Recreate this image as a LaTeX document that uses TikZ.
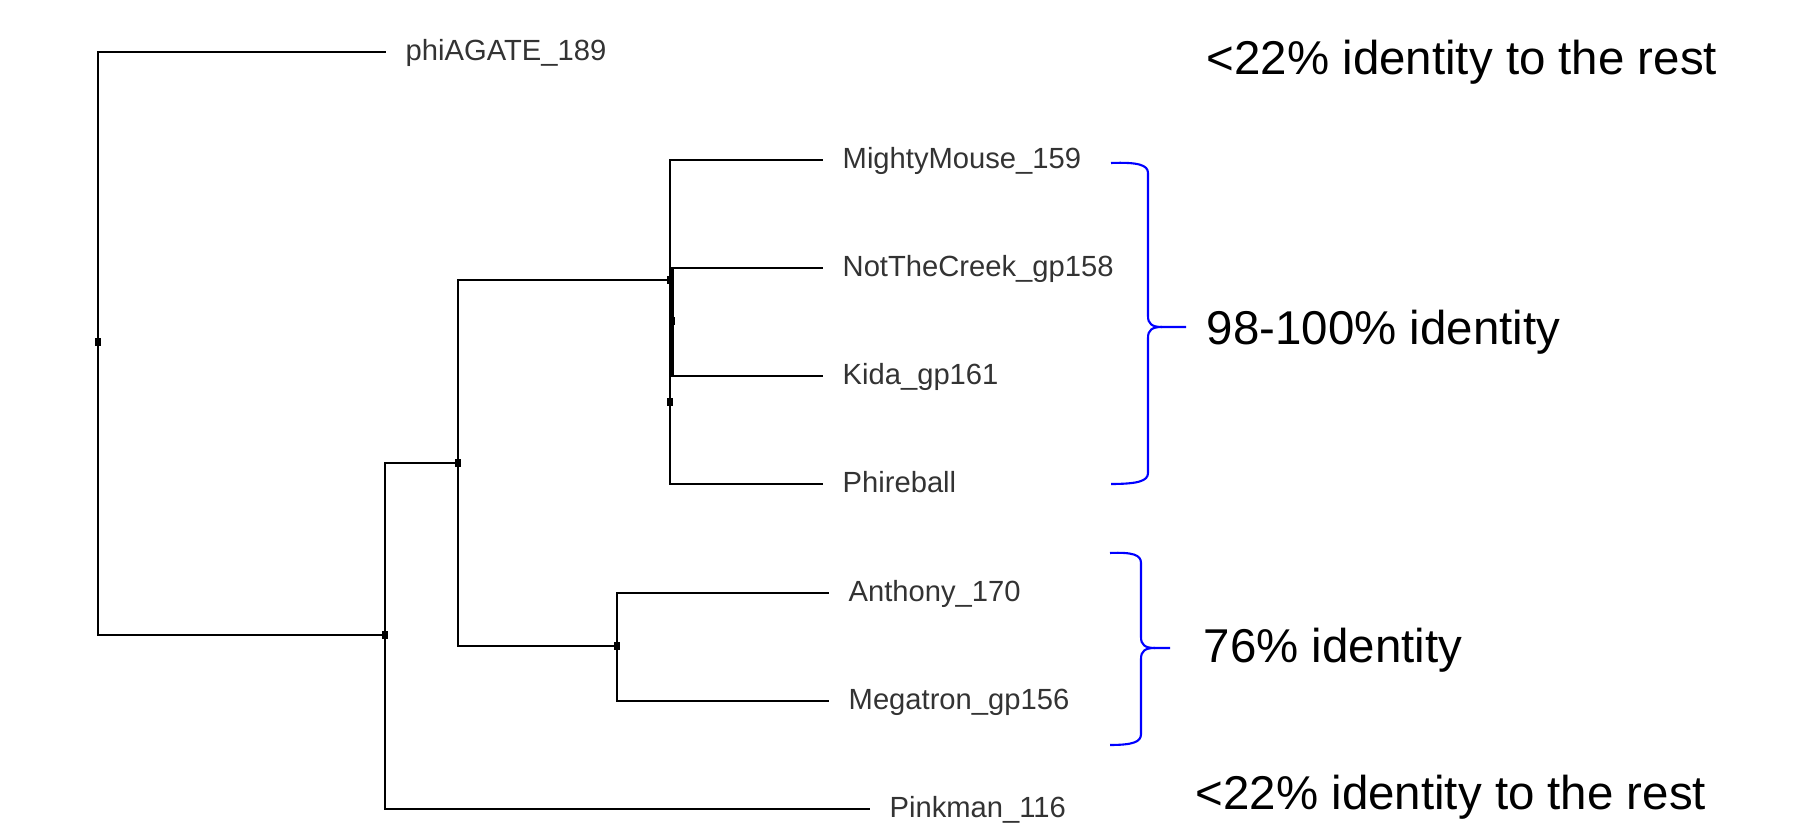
\documentclass[tikz,border=0pt]{standalone}
\usepackage{fontspec}
\setmainfont{Liberation Sans}
\definecolor{azul}{RGB}{0,0,255}
\begin{document}
\begin{tikzpicture}[
    rama/.style={line width=0.6pt, black},
    hoja/.style={anchor=west, inner xsep=0.19cm, inner ysep=0pt, text height=0.72em, text depth=0.24em,
                 font=\fontsize{8.3}{10}\selectfont, text=black!80},
    nota/.style={anchor=base west, inner sep=0pt, font=\fontsize{13.5}{16}\selectfont},
    llave/.style={line width=0.6pt, azul}]
    		\useasboundingbox (0,0) rectangle (18.09,-8.24);
    		%nodos internos
    		\coordinate (raiz) at (0.98,-3.42);
    		\coordinate (n2) at (3.85,-6.35);
    		\coordinate (n3) at (4.58,-4.63);
    		\coordinate (n4) at (6.17,-6.46);
    		\coordinate (arriba) at (6.70,-2.80);
    		\coordinate (sub) at (6.70,-3.21);
    		\coordinate (medio) at (6.70,-4.02);
    		%hojas
    		\node[hoja] at (3.86,-0.52) (phi) {phiAGATE\_189};
    		\node[hoja] at (8.23,-1.60) (mighty) {MightyMouse\_159};
    		\node[hoja] at (8.23,-2.68) (creek) {NotTheCreek\_gp158};
    		\node[hoja] at (8.23,-3.76) (kida) {Kida\_gp161};
    		\node[hoja] at (8.23,-4.84) (phire) {Phireball};
    		\node[hoja] at (8.29,-5.93) (anth) {Anthony\_170};
    		\node[hoja] at (8.29,-7.01) (mega) {Megatron\_gp156};
    		\node[hoja] at (8.70,-8.09) (pink) {Pinkman\_116};
  		%%%% RAMAS
  		\draw [rama] (raiz) |- (phi.west);
  		\draw [rama] (raiz) |- (n2);
  		\draw [rama] (n2) |- (n3);
  		\draw [rama] (n2) |- (pink.west);
  		\draw [rama] (n3) |- (arriba);
  		\draw [rama] (n3) |- (n4);
  		\draw [rama] (n4) |- (anth.west);
  		\draw [rama] (n4) |- (mega.west);
  		\draw [rama] (arriba) |- (mighty.west);
  		\draw [rama] (arriba) -- (medio);
  		\draw [rama] (medio) |- (phire.west);
  		\draw [rama] (sub) |- (creek.west);
  		\draw [rama] (sub) |- (kida.west);
  		\draw [line width=1.3pt] ([xshift=0.02cm]sub |- creek.west) -- ([xshift=0.02cm]sub |- kida.west);
  		%marcas
  		\fill [] (raiz) +(-0.03,-0.04) rectangle +(0.03,0.04);
  		\fill [] (n2) +(-0.03,-0.04) rectangle +(0.03,0.04);
  		\fill [] (n3) +(-0.03,-0.04) rectangle +(0.03,0.04);
  		\fill [] (n4) +(-0.03,-0.04) rectangle +(0.03,0.04);
  		\fill [] (arriba) +(-0.03,-0.04) rectangle +(0.03,0.04);
  		\fill [] (sub) +(-0.01,-0.04) rectangle +(0.05,0.04);
  		\fill [] (medio) +(-0.03,-0.04) rectangle +(0.03,0.04);
  		%llaves
  		\draw [llave] (11.11,-1.63) .. controls (11.38,-1.62) and (11.48,-1.65) .. (11.48,-1.73)
  			-- (11.48,-3.16) .. controls (11.48,-3.24) and (11.52,-3.27) .. (11.62,-3.27) -- (11.86,-3.27);
  		\draw [llave] (11.62,-3.27) .. controls (11.52,-3.27) and (11.48,-3.30) .. (11.48,-3.38)
  			-- (11.48,-4.73) .. controls (11.48,-4.81) and (11.38,-4.84) .. (11.11,-4.84);
  		\draw [llave] (11.10,-5.53) .. controls (11.33,-5.52) and (11.41,-5.55) .. (11.41,-5.63)
  			-- (11.41,-6.37) .. controls (11.41,-6.45) and (11.45,-6.48) .. (11.55,-6.48) -- (11.70,-6.48);
  		\draw [llave] (11.55,-6.48) .. controls (11.45,-6.48) and (11.41,-6.51) .. (11.41,-6.59)
  			-- (11.41,-7.34) .. controls (11.41,-7.42) and (11.33,-7.45) .. (11.10,-7.45);
  		%textos
  		\node[nota] at (12.06,-0.75) (notaarriba) {<22\% identity to the rest};
  		\node[nota] at (12.06,-3.45) (nota98) {98-100\% identity};
  		\node[nota] at (12.03,-6.63) (nota76) {76\% identity};
  		\node[nota] at (11.95,-8.10) (notaabajo) {<22\% identity to the rest};
\end{tikzpicture}
\end{document}
